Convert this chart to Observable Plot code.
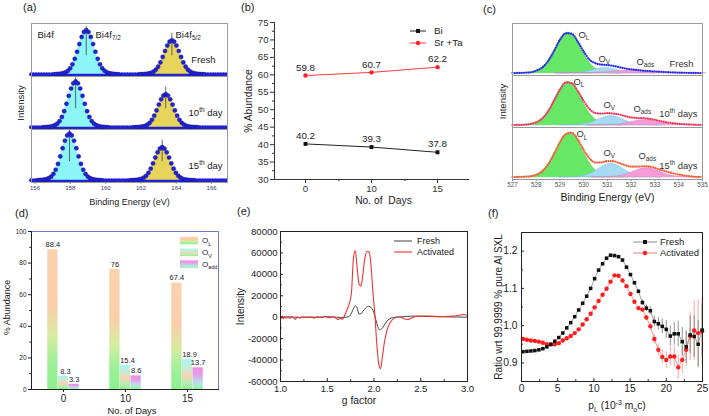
<!DOCTYPE html>
<html>
<head>
<meta charset="utf-8">
<script src="https://cdn.jsdelivr.net/npm/d3@7"></script>
<script src="https://cdn.jsdelivr.net/npm/@observablehq/plot@0.6"></script>
<style>
  html, body { margin: 0; padding: 0; background: #fff; }
  #fig { position: relative; width: 709px; height: 416px; overflow: hidden; background: #fff;
         font-family: "Liberation Sans", Arial, sans-serif; }
  .panel { position: absolute; }
  .letter { position: absolute; font-size: 11px; line-height: 1; color: #222; }
</style>
</head>
<body>
<div id="fig"></div>
<script>
// ================= DATA =================
// shared peak line shape (relative intensity vs distance from centre, in half-widths)
const SHAPE_U = [0, 0.25, 0.5, 0.75, 1, 1.25, 1.5, 1.75, 2, 2.25, 2.5, 2.75, 3, 3.25, 3.5];
const SHAPE_V = [1, 0.958, 0.845, 0.685, 0.51, 0.35, 0.225, 0.135, 0.078, 0.045, 0.026, 0.015, 0.008, 0.004, 0];

// (a) Bi 4f XPS
const BI_SAMPLES = ["Fresh", "10th day", "15th day"];
const BI_C72 = [158.9, 158.3, 157.95];
const BI_C52 = [163.75, 163.4, 163.2];
const BI_H72 = [1.0, 1.04, 1.06];
const BI_H52 = [0.77, 0.75, 0.75];
const BI_HWHM = [0.52, 0.52, 0.52];
const BI_TICKS = [156, 158, 160, 162, 164, 166];

// (b) atomic abundance
const DAYS = [0, 10, 15];
const BI_PCT = [40.2, 39.3, 37.8];
const SRTA_PCT = [59.8, 60.7, 62.2];
const B_YTICKS = [30, 35, 40, 45, 50, 55, 60, 65, 70, 75];
const B_YMINOR = [32.5, 37.5, 42.5, 47.5, 52.5, 57.5, 62.5, 67.5, 72.5];

// (c) O 1s XPS
const O_SAMPLES = ["Fresh", "10th days", "15th days"];
const O_X = [527, 527.25, 527.5, 527.75, 528, 528.25, 528.5, 528.75, 529, 529.25, 529.5, 529.75, 530, 530.25,
  530.5, 530.75, 531, 531.25, 531.5, 531.75, 532, 532.25, 532.5, 532.75, 533, 533.25, 533.5, 533.75, 534,
  534.25, 534.5, 534.75, 535];
const O_ENV_FRESH = [0.005, 0.008, 0.012, 0.022, 0.06, 0.13, 0.285, 0.515, 0.775, 0.925, 0.91, 0.73, 0.5, 0.31,
  0.23, 0.2, 0.19, 0.17, 0.14, 0.11, 0.09, 0.075, 0.062, 0.05, 0.042, 0.034, 0.027, 0.021, 0.016, 0.012, 0.009, 0.007, 0.005];
const O_ENV_10 = [0.005, 0.008, 0.012, 0.03, 0.07, 0.155, 0.325, 0.57, 0.825, 0.99, 0.97, 0.79, 0.56, 0.37,
  0.28, 0.27, 0.28, 0.27, 0.25, 0.21, 0.18, 0.17, 0.165, 0.15, 0.125, 0.095, 0.07, 0.05, 0.035, 0.025, 0.017, 0.012, 0.008];
const O_ENV_15 = [0.005, 0.008, 0.012, 0.022, 0.055, 0.14, 0.3, 0.54, 0.81, 1.0, 1.03, 0.87, 0.63, 0.43,
  0.34, 0.345, 0.375, 0.37, 0.33, 0.28, 0.245, 0.245, 0.255, 0.25, 0.215, 0.17, 0.13, 0.095, 0.065, 0.04, 0.022, 0.012, 0.008];
const OL_C = [529.35, 529.35, 529.4], OL_W = [0.63, 0.65, 0.65], OL_H = [0.94, 1.0, 1.03];
const OV_C = [530.9, 531.15, 531.15], OV_W = [0.6, 0.62, 0.62], OV_H = [0.12, 0.21, 0.31];
const OA_C = [532.0, 532.6, 532.65], OA_W = [0.9, 0.7, 0.65], OA_H = [0.06, 0.12, 0.21];
const C_TICKS = [527, 528, 529, 530, 531, 532, 533, 534, 535];

// (d) oxygen species abundance
const D_OL = [88.4, 76, 67.4];
const D_OV = [8.3, 15.4, 18.9];
const D_OA = [3.3, 8.6, 13.7];
const D_YTICKS = [0, 20, 40, 60, 80, 100];
const D_YMINOR = [10, 30, 50, 70, 90];

// (e) EPR
const E_FRESH_G = [1.00, 1.10, 1.20, 1.30, 1.40, 1.50, 1.60, 1.65, 1.70, 1.72, 1.74, 1.76, 1.78, 1.80, 1.82, 1.84,
  1.86, 1.88, 1.91, 1.94, 1.97, 2.00, 2.02, 2.04, 2.06, 2.08, 2.11, 2.14, 2.18, 2.22, 2.30, 2.40, 2.50, 2.60, 2.70, 2.80, 2.90, 3.00];
const E_FRESH_I = [0, 300, -200, 200, 0, 500, 0, -300, 0, 300, 1200, 4000, 8000, 10800, 8500, 3000,
  3200, 5500, 8500, 10200, 9000, 4000, -2500, -8500, -11800, -11000, -7500, -3500, -900, 0, 400, 1000, 900, 600, 400, 300, 200, 0];
const E_ACT_G = [1.00, 1.01, 1.02, 1.03, 1.04, 1.06, 1.08, 1.10, 1.12, 1.14, 1.16, 1.18, 1.20, 1.24, 1.28, 1.32,
  1.36, 1.40, 1.44, 1.48, 1.52, 1.56, 1.60, 1.62, 1.64, 1.66, 1.68, 1.70, 1.72, 1.74, 1.76, 1.78, 1.80, 1.82,
  1.84, 1.86, 1.88, 1.90, 1.93, 1.95, 1.97, 1.99, 2.01, 2.03, 2.05, 2.07, 2.09, 2.11, 2.14, 2.17, 2.20, 2.24,
  2.28, 2.32, 2.36, 2.40, 2.45, 2.55, 2.65, 2.75, 2.85, 2.92, 2.96, 3.00];
const E_ACT_I = [1500, -1000, 1200, -1500, 500, -800, 300, -1200, 600, -500, -2000, 400, -600, 300, -400, 200,
  -700, 300, -300, 600, -500, 400, -1500, -2200, -600, -1800, 500, 4500, 9000, 14000, 24000, 55000, 62000, 46000,
  31000, 29000, 39000, 54000, 61500, 60500, 46000, 22000, 1500, -25000, -43000, -48000, -37000, -24000, -12000, -5500, -2000, 0,
  200, -1500, -2200, -800, 800, 1200, 800, 600, 1000, 2000, 2500, 1500];
const E_YTICKS = [-60000, -40000, -20000, 0, 20000, 40000, 60000, 80000];
const E_YMINOR = [-50000, -30000, -10000, 10000, 30000, 50000, 70000];
const E_XTICKS = [1.0, 1.5, 2.0, 2.5, 3.0];
const E_XMINOR = [1.25, 1.75, 2.25, 2.75];

// (f) positron annihilation ratio curves
const F_PL = [0.2, 0.75, 1.3, 1.85, 2.4, 2.95, 3.5, 4.05, 4.6, 5.15, 5.7, 6.25, 6.8, 7.35, 7.9, 8.45, 9.0, 9.55,
  10.1, 10.65, 11.2, 11.75, 12.3, 12.85, 13.4, 13.95, 14.5, 15.05, 15.6, 16.15, 16.7, 17.25, 17.8, 18.35, 18.9,
  19.45, 20.0, 20.55, 21.1, 21.65, 22.2, 22.75, 23.3, 23.85, 24.4, 24.95];
const F_FRESH = [0.930, 0.931, 0.932, 0.933, 0.935, 0.938, 0.943, 0.950, 0.958, 0.968, 0.980, 0.994, 1.008, 1.024,
  1.042, 1.060, 1.079, 1.100, 1.126, 1.149, 1.166, 1.181, 1.189, 1.188, 1.185, 1.176, 1.157, 1.137, 1.115, 1.092,
  1.062, 1.047, 1.040, 1.011, 1.005, 0.998, 0.990, 0.972, 0.978, 0.978, 0.957, 0.943, 0.975, 0.971, 0.950, 0.988];
const F_ACT = [0.964, 0.962, 0.960, 0.959, 0.957, 0.954, 0.950, 0.949, 0.950, 0.953, 0.960, 0.966, 0.972, 0.980,
  0.990, 1.003, 1.017, 1.032, 1.049, 1.066, 1.083, 1.099, 1.118, 1.135, 1.134, 1.121, 1.106, 1.085, 1.064, 1.047,
  1.043, 1.022, 0.998, 0.964, 0.935, 0.916, 0.908, 0.917, 0.917, 0.888, 0.908, 0.935, 0.972, 0.987, 0.980, 0.985];
const F_FRESH_ERR = [0, 0, 0, 0, 0, 0, 0, 0, 0, 0, 0, 0, 0, 0, 0, 0, 0, 0, 0, 0, 0, 0, 0, 0, 0, 0, 0, 0,
  0.004, 0.005, 0.007, 0.009, 0.011, 0.014, 0.017, 0.02, 0.024, 0.027, 0.03, 0.034, 0.038, 0.044, 0.05, 0.056, 0.063, 0.07];
const F_ACT_ERR = [0, 0, 0, 0, 0, 0, 0, 0, 0, 0, 0, 0, 0, 0, 0, 0, 0, 0, 0, 0, 0, 0, 0, 0, 0, 0, 0, 0,
  0.004, 0.005, 0.006, 0.008, 0.01, 0.013, 0.016, 0.019, 0.022, 0.025, 0.028, 0.032, 0.037, 0.045, 0.065, 0.08, 0.09, 0.09];
const F_XTICKS = [0, 5, 10, 15, 20, 25];
const F_XMINOR = [2.5, 7.5, 12.5, 17.5, 22.5];
const F_YTICKS = [0.9, 1.0, 1.1, 1.2];
const F_YMINOR = [0.85, 0.95, 1.05, 1.15, 1.25];

// ================= HELPERS =================
const FONT = "'Liberation Sans', Arial, sans-serif";

// mirror the typed line shape around a centre
function peakRows(center, hw, height, extra) {
  const rows = [];
  for (let i = SHAPE_U.length - 1; i > 0; i--) rows.push({x: center - SHAPE_U[i] * hw, y: height * SHAPE_V[i], ...extra});
  for (let i = 0; i < SHAPE_U.length; i++) rows.push({x: center + SHAPE_U[i] * hw, y: height * SHAPE_V[i], ...extra});
  return rows;
}

function note(t, o = {}) {
  const {fy, ...rest} = o;
  const opts = {text: "t", textAnchor: "middle", lineAnchor: "middle", fill: "#222", ...rest};
  if (fy !== undefined) opts.fy = "fy";
  return Plot.text([{t, fy}], opts);
}

// small legend drawn in svg pixel space
function legendMark(items, o) {
  return () => {
    const g = d3.create("svg:g").attr("font-size", o.fontSize).attr("font-family", FONT).attr("text-anchor", "start");
    items.forEach((it, i) => {
      const y = o.y + i * o.step;
      if (it.swatch) {
        g.append("rect").attr("x", o.x1).attr("y", y - o.sh / 2).attr("width", o.x2 - o.x1)
          .attr("height", o.sh).attr("fill", it.swatch);
      } else {
        g.append("line").attr("x1", o.x1).attr("x2", o.x2).attr("y1", y).attr("y2", y)
          .attr("stroke", it.stroke).attr("stroke-width", it.width || 1);
      }
      const mx = (o.x1 + o.x2) / 2;
      if (it.symbol === "square") g.append("rect").attr("x", mx - 2).attr("y", y - 2).attr("width", 4).attr("height", 4).attr("fill", it.mark);
      if (it.symbol === "circle") g.append("circle").attr("cx", mx).attr("cy", y).attr("r", 2.2).attr("fill", it.mark);
      g.append("text").attr("x", o.tx).attr("y", y).attr("dy", "0.35em").attr("text-anchor", "start")
        .attr("fill", "#222").text(it.label);
    });
    return g.node();
  };
}

// sub/superscript markup  _{..}  ^{..}  -> tspans
function richify(root) {
  root.querySelectorAll("text").forEach(t => {
    const targets = t.querySelectorAll("tspan").length ? [...t.querySelectorAll("tspan")] : [t];
    targets.forEach(el => {
      const s = el.textContent;
      if (!/[_^]\{/.test(s)) return;
      const fs = parseFloat(getComputedStyle(el).fontSize) || 10;
      el.textContent = "";
      const re = /([_^])\{([^}]*)\}/g;
      let last = 0, m, shift = 0;
      const add = (txt, kind) => {
        const ts = document.createElementNS("http://www.w3.org/2000/svg", "tspan");
        const target = kind === "_" ? fs * 0.3 : kind === "^" ? -fs * 0.4 : 0;
        const d = target - shift;
        if (d) ts.setAttribute("dy", d);
        shift = target;
        if (kind) ts.setAttribute("font-size", (fs * 0.68).toFixed(2));
        ts.textContent = txt;
        el.appendChild(ts);
      };
      while ((m = re.exec(s))) {
        if (m.index > last) add(s.slice(last, m.index), null);
        add(m[2], m[1]);
        last = re.lastIndex;
      }
      if (last < s.length) add(s.slice(last), null);
    });
  });
}

const fig = document.getElementById("fig");
function place(node, left, top, w, h) {
  const d = document.createElement("div");
  d.className = "panel";
  Object.assign(d.style, {left: left + "px", top: top + "px", width: w + "px", height: h + "px"});
  d.appendChild(node);
  fig.appendChild(d);
}
function letter(txt, left, top) {
  const d = document.createElement("div");
  d.className = "letter";
  d.style.left = left + "px"; d.style.top = top + "px";
  d.textContent = txt;
  fig.appendChild(d);
}
const baseStyle = (fs, color) => ({fontFamily: FONT, fontSize: fs + "px", color, background: "transparent", overflow: "visible"});

// ================= (a) =================
{
  const comp = [], rules = [];
  BI_SAMPLES.forEach((s, i) => {
    comp.push(...peakRows(BI_C72[i], BI_HWHM[i], BI_H72[i], {s, c: "7/2"}));
    comp.push(...peakRows(BI_C52[i], BI_HWHM[i], BI_H52[i], {s, c: "5/2"}));
    rules.push({s, x: BI_C72[i], y1: 0.42, y2: BI_H72[i] + 0.08});
    rules.push({s, x: BI_C52[i], y1: 0.42, y2: BI_H52[i] + 0.16});
  });
  const p = Plot.plot({
    width: 235, height: 210, marginTop: 22, marginRight: 8, marginBottom: 27.5, marginLeft: 31,
    x: {domain: [155.8, 166.9]},
    y: {domain: [-0.05, 1.15], axis: null},
    fy: {domain: BI_SAMPLES, padding: 0, axis: null},
    style: baseStyle(6, "#3b4160"),
    marks: [
      Plot.ruleY([0], {stroke: "#2323cf", strokeWidth: 4, strokeDasharray: "0,2.6", strokeLinecap: "round"}),
      Plot.areaY(comp.filter(d => d.c === "7/2"), {x: "x", y: "y", fy: "s", fill: "#8cf6f6", curve: "monotone-x"}),
      Plot.areaY(comp.filter(d => d.c === "5/2"), {x: "x", y: "y", fy: "s", fill: "#e6d55a", curve: "monotone-x"}),
      Plot.ruleX(rules, {x: "x", y1: "y1", y2: "y2", fy: "s", stroke: "#444", strokeWidth: 0.8}),
      Plot.dot(comp, {x: "x", y: "y", fy: "s", r: 2.1, fill: "#2323cf", stroke: "#12128f", strokeWidth: 0.4}),
      Plot.frame({stroke: "#9a9a9a"}),
      Plot.axisX({ticks: BI_TICKS, tickSize: 2, tickPadding: 1.5, fontSize: 6, label: null, stroke: "#999"}),
      note("Bi4f", {fy: "Fresh", frameAnchor: "top-left", dx: 6, dy: 11, textAnchor: "start", fontSize: 9.5}),
      note("Bi4f_{7/2}", {fy: "Fresh", frameAnchor: "top-left", dx: 64, dy: 11, textAnchor: "start", fontSize: 9.5}),
      note("Bi4f_{5/2}", {fy: "Fresh", frameAnchor: "top-left", dx: 144, dy: 11, textAnchor: "start", fontSize: 9.5}),
      note("Fresh", {fy: "Fresh", frameAnchor: "top-right", dx: -12, dy: 36, textAnchor: "end", fontSize: 9.5}),
      note("10^{th} day", {fy: "10th day", frameAnchor: "top-right", dx: -5, dy: 36.5, textAnchor: "end", fontSize: 9.5}),
      note("15^{th} day", {fy: "15th day", frameAnchor: "top-right", dx: -5, dy: 36, textAnchor: "end", fontSize: 9.5}),
      note("Intensity", {fy: "10th day", frameAnchor: "left", dx: -11, rotate: -90, fontSize: 9.5}),
      note("Binding Energy (eV)", {fy: "15th day", frameAnchor: "bottom", dy: 19.5, fontSize: 9})
    ]
  });
  place(p, 0, 0, 235, 210);
}

// ================= (b) =================
{
  const rows = DAYS.map((d, i) => ({d, bi: BI_PCT[i], st: SRTA_PCT[i]}));
  const p = Plot.plot({
    width: 235, height: 210, marginTop: 22, marginRight: 2, marginBottom: 31, marginLeft: 39,
    x: {type: "point", domain: DAYS, padding: 0.46},
    y: {domain: [30, 75]},
    style: baseStyle(9.6, "#333"),
    marks: [
      Plot.frame({anchor: "left", stroke: "#333"}),
      Plot.frame({anchor: "bottom", stroke: "#333"}),
      Plot.axisY({ticks: B_YTICKS, tickSize: 4, tickPadding: 2, tickFormat: d => String(d), label: null}),
      Plot.axisY({ticks: B_YMINOR, tickSize: 2, tickFormat: () => "", label: null}),
      Plot.axisX({ticks: DAYS, tickSize: 4, tickPadding: 1.5, label: null}),
      Plot.axisX({ticks: [0, 10], tickSize: 2, tickFormat: () => "", dx: 33.3, label: null}),
      Plot.line(rows, {x: "d", y: "bi", stroke: "#222", strokeWidth: 1}),
      Plot.line(rows, {x: "d", y: "st", stroke: "#ff3b3b", strokeWidth: 1}),
      Plot.dot(rows, {x: "d", y: "bi", symbol: "square", r: 2.2, fill: "#111"}),
      Plot.dot(rows, {x: "d", y: "st", r: 2.2, fill: "#ff2020"}),
      Plot.text(rows, {x: "d", y: "bi", text: d => d.bi.toFixed(1), dy: -8, fontSize: 9.8, fill: "#222"}),
      Plot.text(rows, {x: "d", y: "st", text: d => d.st.toFixed(1), dy: -8, fontSize: 9.8, fill: "#222"}),
      legendMark([
        {label: "Bi", stroke: "#222", symbol: "square", mark: "#111"},
        {label: "Sr +Ta", stroke: "#ff3b3b", symbol: "circle", mark: "#ff2020"}
      ], {x1: 175, x2: 191, tx: 199, y: 31, step: 12, fontSize: 9.8}),
      note("% Abundance", {frameAnchor: "left", dx: -26, rotate: -90, fontSize: 10.3}),
      note("No. of  Days", {frameAnchor: "bottom", dx: 12, dy: 21, fontSize: 10.3})
    ]
  });
  place(p, 235, 0, 235, 210);
}

// ================= (c) =================
{
  const ol = [], ov = [], oa = [], env = [];
  const ENVS = [O_ENV_FRESH, O_ENV_10, O_ENV_15];
  O_SAMPLES.forEach((s, i) => {
    ol.push(...peakRows(OL_C[i], OL_W[i], OL_H[i], {s}));
    ov.push(...peakRows(OV_C[i], OV_W[i], OV_H[i], {s}));
    oa.push(...peakRows(OA_C[i], OA_W[i], OA_H[i], {s}));
    O_X.forEach((x, j) => env.push({s, x, y: ENVS[i][j]}));
  });
  const ENV_COLORS = ["#2a2ae8", "#ef3a5e", "#f4603a"];
  const lab = (t, s, dx, dy, anchor = "top-left", ta = "start") =>
    note(t, {fy: s, frameAnchor: anchor, dx, dy, textAnchor: ta, fontSize: 9.4, fill: "#333"});
  const p = Plot.plot({
    width: 239, height: 210, marginTop: 22, marginRight: 7, marginBottom: 31, marginLeft: 42,
    x: {domain: [527, 535]},
    y: {domain: [-0.05, 1.15], axis: null},
    fy: {domain: O_SAMPLES, padding: 0, axis: null},
    style: baseStyle(6.3, "#555"),
    marks: [
      Plot.areaY(ol, {x: "x", y: "y", fy: "s", fill: "#66e866", stroke: "#4cc84c", strokeWidth: 0.5, curve: "monotone-x"}),
      Plot.areaY(ov, {x: "x", y: "y", fy: "s", fill: "#a6daf4", stroke: "#74bcd8", strokeWidth: 0.5, curve: "monotone-x"}),
      Plot.areaY(oa, {x: "x", y: "y", fy: "s", fill: "#f59cd8", stroke: "#de78c0", strokeWidth: 0.5, curve: "monotone-x"}),
      ...O_SAMPLES.map((s, i) => Plot.line(env.filter(d => d.s === s), {
        x: "x", y: "y", fy: "s", stroke: ENV_COLORS[i], strokeWidth: 2.3,
        strokeDasharray: "0,2.3", strokeLinecap: "round", curve: "monotone-x"})),
      Plot.frame({stroke: "#9a9a9a"}),
      Plot.axisX({ticks: C_TICKS, tickSize: 2, tickPadding: 1.5, label: null, stroke: "#999"}),
      lab("O_{L}", "Fresh", 66, 11), lab("O_{V}", "Fresh", 86, 35), lab("O_{ads}", "Fresh", 124, 38),
      lab("Fresh", "Fresh", -9, 40, "top-right", "end"),
      lab("O_{L}", "10th days", 61, 6), lab("O_{V}", "10th days", 91, 29), lab("O_{ads}", "10th days", 121, 33),
      lab("10^{th} days", "10th days", -5, 38, "top-right", "end"),
      lab("O_{L}", "15th days", 64, 6.5), lab("O_{V}", "15th days", 91, 25), lab("O_{ads}", "15th days", 126, 28),
      lab("15^{th} days", "15th days", -5, 38, "top-right", "end"),
      note("Intensity", {fy: "10th days", frameAnchor: "left", dx: -10, rotate: -90, fontSize: 9.5}),
      note("Binding Energy (eV)", {fy: "15th days", frameAnchor: "bottom", dy: 18, fontSize: 10.5})
    ]
  });
  place(p, 470, 0, 239, 210);
}

// ================= (d) =================
{
  const defs = () => {
    const d = d3.create("svg:defs");
    const grad = (id, stops) => {
      const g = d.append("linearGradient").attr("id", id).attr("x1", 0).attr("y1", 0).attr("x2", 0).attr("y2", 1);
      stops.forEach(([o, c]) => g.append("stop").attr("offset", o).attr("stop-color", c));
    };
    grad("gOL", [[0, "#fbd2ae"], [0.42, "#f9cfa8"], [0.62, "#d6eca0"], [0.8, "#a0f09c"], [1, "#8cf08e"]]);
    grad("gOV", [[0, "#a6f6f2"], [0.3, "#c6ecd6"], [0.55, "#f7d3b2"], [0.8, "#b4eeb2"], [1, "#92ec9c"]]);
    grad("gOA", [[0, "#f08ade"], [0.35, "#e2a2e8"], [0.62, "#c2d2f0"], [0.85, "#a8f0c8"], [1, "#92ec9c"]]);
    return d.node();
  };
  const mk = vals => DAYS.map((d, i) => ({d, v: vals[i]}));
  const inset = 25.85;
  const bar = (vals, id, dx) => Plot.barY(mk(vals), {x: "d", y: "v", fill: `url(#${id})`, insetLeft: inset, insetRight: inset, dx});
  const vtxt = (vals, dx) => Plot.text(mk(vals), {x: "d", y: "v", text: d => String(d.v), dx, dy: -5, fontSize: 7.5, fill: "#222"});
  const p = Plot.plot({
    width: 235, height: 211, marginTop: 26, marginRight: 17, marginBottom: 27, marginLeft: 31,
    x: {type: "band", domain: DAYS, padding: 0},
    y: {domain: [0, 100]},
    style: baseStyle(10, "#222"),
    marks: [
      defs,
      bar(D_OL, "gOL", -10.6), bar(D_OV, "gOV", 0), bar(D_OA, "gOA", 10.6),
      vtxt(D_OL, -10.6), vtxt(D_OV, 2), vtxt(D_OA, 10.6),
      Plot.frame({stroke: "#7878c8"}),
      Plot.frame({anchor: "left", stroke: "#222"}),
      Plot.frame({anchor: "bottom", stroke: "#222"}),
      Plot.axisY({ticks: D_YTICKS, tickSize: 3, tickPadding: 2, fontSize: 6.5, label: null}),
      Plot.axisY({ticks: D_YMINOR, tickSize: 1.8, tickFormat: () => "", label: null}),
      Plot.axisX({ticks: DAYS, tickSize: 3, tickPadding: 2, fontSize: 10, label: null}),
      legendMark([
        {label: "O_{L}", swatch: "url(#gOL)"},
        {label: "O_{V}", swatch: "url(#gOV)"},
        {label: "O_{add}", swatch: "url(#gOA)"}
      ], {x1: 180, x2: 198, tx: 202, y: 35.5, step: 11.8, sh: 7.5, fontSize: 8}),
      note("% Abundance", {frameAnchor: "left", dx: -24, dy: -3, rotate: -90, fontSize: 9}),
      note("No. of Days", {frameAnchor: "bottom", dx: 7, dy: 21.5, fontSize: 9.4})
    ]
  });
  place(p, 0, 205, 235, 211);
}

// ================= (e) =================
{
  const fr = E_FRESH_G.map((g, i) => ({g, v: E_FRESH_I[i]}));
  const ac = E_ACT_G.map((g, i) => ({g, v: E_ACT_I[i]}));
  const p = Plot.plot({
    width: 235, height: 211, marginTop: 26, marginRight: 3, marginBottom: 35, marginLeft: 45,
    x: {domain: [1, 3]},
    y: {domain: [-60000, 80000]},
    style: baseStyle(9.5, "#222"),
    marks: [
      Plot.line(fr, {x: "g", y: "v", stroke: "#444", strokeWidth: 1, curve: "monotone-x"}),
      Plot.line(ac, {x: "g", y: "v", stroke: "#ee3434", strokeWidth: 1.1, curve: "monotone-x"}),
      Plot.frame({stroke: "#222"}),
      Plot.axisY({ticks: E_YTICKS, tickSize: 0, tickPadding: 3, tickFormat: d => String(d), label: null}),
      Plot.axisY({ticks: E_YTICKS, tickSize: 3, tickFormat: () => "", dx: 3, label: null}),
      Plot.axisY({ticks: E_YMINOR, tickSize: 1.8, tickFormat: () => "", dx: 1.8, label: null}),
      Plot.axisX({ticks: E_XTICKS, tickSize: 0, tickPadding: 4, tickFormat: d3.format(".1f"), fontSize: 9.5, label: null}),
      Plot.axisX({ticks: E_XTICKS, tickSize: 3, tickFormat: () => "", dy: -3, label: null}),
      Plot.axisX({ticks: E_XMINOR, tickSize: 1.8, tickFormat: () => "", dy: -1.8, label: null}),
      legendMark([
        {label: "Fresh", stroke: "#444"},
        {label: "Activated", stroke: "#ee3434", width: 1.1}
      ], {x1: 159, x2: 177, tx: 182, y: 36, step: 11, fontSize: 9}),
      note("Intensity", {frameAnchor: "left", dx: -40, rotate: -90, fontSize: 10}),
      note("g factor", {frameAnchor: "bottom", dx: -15, dy: 19, fontSize: 10.3})
    ]
  });
  place(p, 235, 205, 235, 211);
}

// ================= (f) =================
{
  const fr = F_PL.map((x, i) => ({x, y: F_FRESH[i], e: F_FRESH_ERR[i]}));
  const ac = F_PL.map((x, i) => ({x, y: F_ACT[i], e: F_ACT_ERR[i]}));
  const p = Plot.plot({
    width: 239, height: 211, marginTop: 27, marginRight: 7, marginBottom: 35, marginLeft: 51,
    x: {domain: [0, 25]},
    y: {domain: [0.85, 1.25]},
    style: baseStyle(10.3, "#222"),
    marks: [
      Plot.ruleX(ac.filter(d => d.e > 0), {x: "x", y1: d => d.y - d.e, y2: d => d.y + d.e, stroke: "#f39090", strokeWidth: 0.8}),
      Plot.ruleX(fr.filter(d => d.e > 0), {x: "x", y1: d => d.y - d.e, y2: d => d.y + d.e, stroke: "#777", strokeWidth: 0.8}),
      Plot.line(ac, {x: "x", y: "y", stroke: "#f27a7a", strokeWidth: 0.8}),
      Plot.line(fr, {x: "x", y: "y", stroke: "#8a8a8a", strokeWidth: 0.8}),
      Plot.dot(ac, {x: "x", y: "y", r: 2.2, fill: "#ff1c1c"}),
      Plot.dot(fr, {x: "x", y: "y", symbol: "square", r: 2, fill: "#111"}),
      Plot.frame({stroke: "#222"}),
      Plot.axisY({ticks: F_YTICKS, tickSize: 0, tickPadding: 4, tickFormat: d3.format(".1f"), label: null}),
      Plot.axisY({ticks: F_YTICKS, tickSize: 3, tickFormat: () => "", dx: 3, label: null}),
      Plot.axisY({ticks: F_YMINOR, tickSize: 1.8, tickFormat: () => "", dx: 1.8, label: null}),
      Plot.axisX({ticks: F_XTICKS, tickSize: 0, tickPadding: 3, label: null}),
      Plot.axisX({ticks: F_XTICKS, tickSize: 3, tickFormat: () => "", dy: -3, label: null}),
      Plot.axisX({ticks: F_XMINOR, tickSize: 1.8, tickFormat: () => "", dy: -1.8, label: null}),
      legendMark([
        {label: "Fresh", stroke: "#8a8a8a", symbol: "square", mark: "#111"},
        {label: "Activated", stroke: "#f27a7a", symbol: "circle", mark: "#ff1c1c"}
      ], {x1: 163, x2: 187, tx: 190, y: 37, step: 11, fontSize: 9.5}),
      note("Ratio wrt 99.9999 % pure Al SXL", {frameAnchor: "left", dx: -23, rotate: -90, fontSize: 10}),
      note("p_{L} (10^{-3} m_{o}c)", {frameAnchor: "bottom", dx: 5, dy: 24, fontSize: 10.3})
    ]
  });
  place(p, 470, 205, 239, 211);
}

// panel letters
letter("(a)", 23, 2);
letter("(b)", 241, 2);
letter("(c)", 483, 4);
letter("(d)", 15, 208);
letter("(e)", 237, 206);
letter("(f)", 488, 208);

richify(fig);
</script>
</body>
</html>
